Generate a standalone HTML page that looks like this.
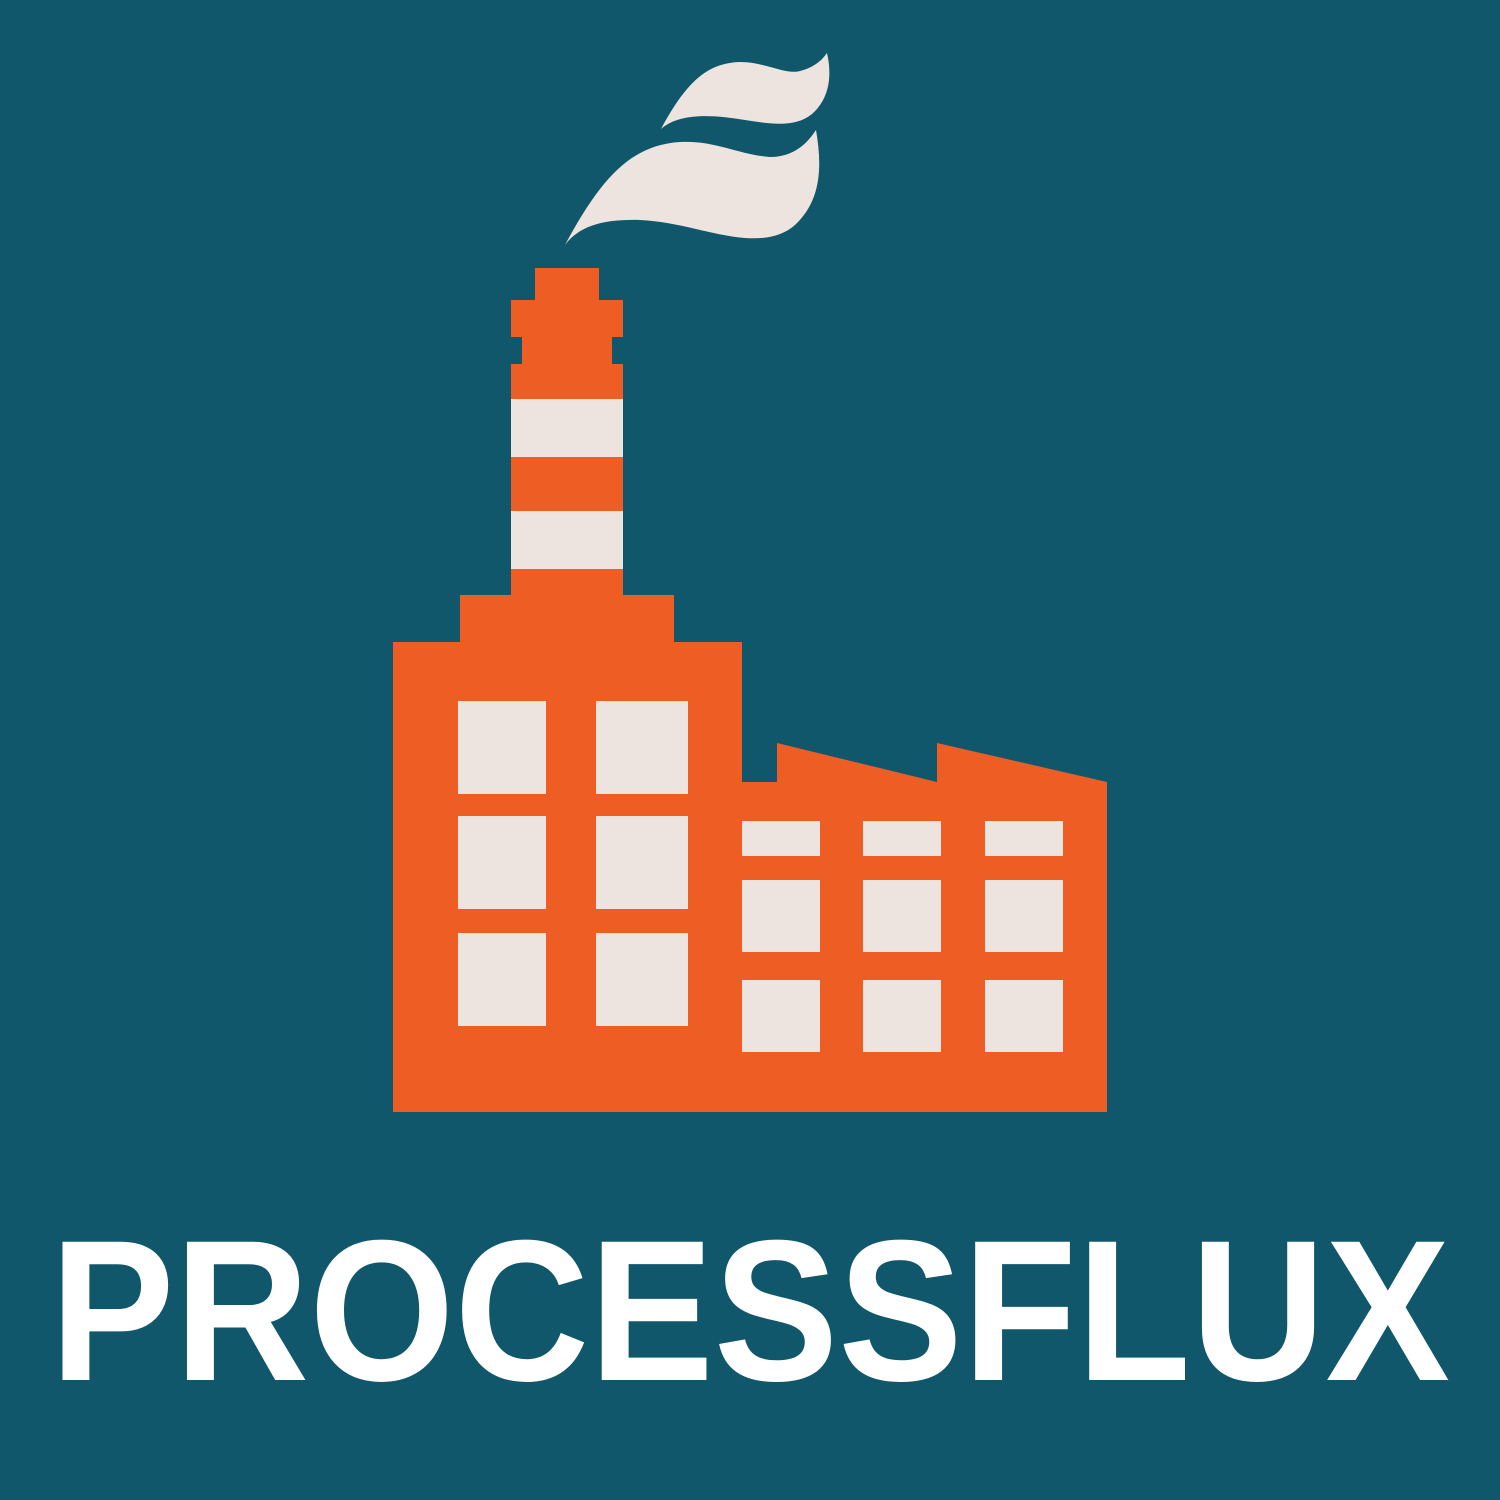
<!DOCTYPE html>
<html><head><meta charset="utf-8"><style>html,body{margin:0;padding:0;background:#10576B}svg{display:block}</style></head>
<body>
<svg width="1500" height="1500" viewBox="0 0 1500 1500" xmlns="http://www.w3.org/2000/svg">
<rect width="1500" height="1500" fill="#10576B"/>
<g fill="#EDE4DF">
<path d="M661,129 C685,85 705,63 740,62 C765,62 785,75 800,71 C815,67 822,60 827,53 C832,75 830,98 812,114 C795,128 770,124 745,120 C715,115 680,112 661,129 Z"/>
<path d="M565,245 C600,180 630,145 680,142 C715,140 740,155 770,157 C795,157 808,142 816,130 C822,165 822,200 795,225 C780,238 762,239 745,238 C710,235 680,222 640,220 C605,219 580,225 565,245 Z"/>
</g>
<g fill="#EE5D24">
<rect x="535" y="268" width="64" height="34"/>
<rect x="511" y="300" width="112" height="37"/>
<rect x="522" y="336" width="90" height="30"/>
<rect x="511" y="364" width="112" height="233"/>
<rect x="460" y="595" width="214" height="49"/>
<rect x="393" y="642" width="349" height="470"/>
<path d="M740,782 L777,782 L777,743 L937,782 L937,743 L1107,782 L1107,1112 L740,1112 Z"/>
</g>
<g fill="#EDE4DF">
<rect x="511" y="399" width="112" height="58"/>
<rect x="511" y="511" width="112" height="58"/>
<rect x="458" y="701" width="88" height="93"/>
<rect x="596" y="701" width="92" height="93"/>
<rect x="458" y="816" width="88" height="93"/>
<rect x="596" y="816" width="92" height="93"/>
<rect x="458" y="933" width="88" height="93"/>
<rect x="596" y="933" width="92" height="93"/>
<rect x="742" y="821" width="78" height="35"/>
<rect x="863" y="821" width="78" height="35"/>
<rect x="985" y="821" width="78" height="35"/>
<rect x="742" y="880" width="78" height="72"/>
<rect x="863" y="880" width="78" height="72"/>
<rect x="985" y="880" width="78" height="72"/>
<rect x="742" y="980" width="78" height="72"/>
<rect x="863" y="980" width="78" height="72"/>
<rect x="985" y="980" width="78" height="72"/>
</g>
<text x="50" y="1380" fill="#FFFFFF" font-family="'Liberation Sans', sans-serif" font-weight="bold" font-size="201" textLength="1400" lengthAdjust="spacingAndGlyphs">PROCESSFLUX</text>
</svg>
</body></html>
